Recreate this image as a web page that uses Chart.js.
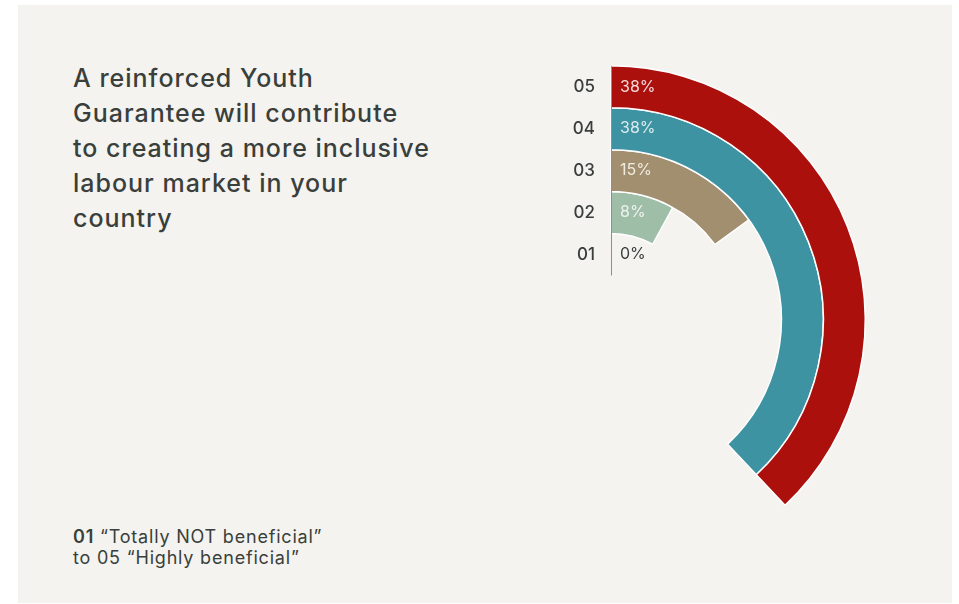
<!DOCTYPE html>
<html>
<head>
<meta charset="utf-8">
<script src="https://cdn.jsdelivr.net/npm/chart.js@4"></script>
<style>
    html, body {
        margin: 0;
        padding: 0;
        background: #ffffff;
        width: 959px;
        height: 604px;
        overflow: hidden;
        font-family: Inter, "Open Sans", sans-serif;
    }
    .panel {
        position: absolute;
        left: 18px;
        top: 5px;
        width: 934px;
        height: 598px;
        background: #f4f3f0;
    }
    .title {
        position: absolute;
        left: 73px;
        top: 61px;
        font-size: 25px;
        line-height: 35px;
        font-weight: 500;
        letter-spacing: 1px;
        color: #3a3f3b;
        margin: 0;
    }
    .note {
        position: absolute;
        left: 73px;
        top: 526px;
        font-size: 18px;
        line-height: 21px;
        letter-spacing: 0.8px;
        color: #3a3f3b;
    }
    .note b { font-weight: 600; }
    .chart-box {
        position: absolute;
        left: 0;
        top: 0;
        width: 959px;
        height: 604px;
    }
</style>
</head>
<body>
<div class="panel"></div>
<div class="title">A reinforced Youth<br>Guarantee will contribute<br>to creating a more inclusive<br>labour market in your<br>country</div>
<div class="note"><b>01</b> “Totally NOT beneficial”<br>to 05 “Highly beneficial”</div>
<div class="chart-box"><canvas id="ygChart"></canvas></div>

<script>
// Answers per score, outer ring first
const categories = ["05", "04", "03", "02", "01"];
const shares = [38, 38, 15, 8, 0];
const ringColors = ["#ab100d", "#3e93a2", "#a28f6f", "#9fbea8", "#c9d8cc"];
const shareTextColors = ["#f3dcdc", "#dcecef", "#f1ebe0", "#eef3ef", "#3a3f3b"];
const total = 100;

// Vertical axis line plus score / percentage labels at the start of each ring
const ringLabels = {
    id: "ringLabels",
    afterDatasetsDraw(chart) {
        const ctx = chart.ctx;
        const first = chart.getDatasetMeta(0).data[0];
        const last = chart.getDatasetMeta(categories.length - 1).data[0];
        const cx = first.x, cy = first.y;

        ctx.save();
        ctx.strokeStyle = "#8e8e8c";
        ctx.lineWidth = 1;
        ctx.beginPath();
        ctx.moveTo(Math.round(cx) + 0.5, cy - last.innerRadius);
        ctx.lineTo(Math.round(cx) + 0.5, cy - first.outerRadius);
        ctx.stroke();

        ctx.textBaseline = "middle";
        categories.forEach((cat, i) => {
            const arc = chart.getDatasetMeta(i).data[0];
            const r = (arc.innerRadius + arc.outerRadius) / 2;
            const y = cy - r;

            ctx.font = "500 17px Inter, sans-serif";
            ctx.fillStyle = "#3a3f3b";
            ctx.textAlign = "right";
            ctx.fillText(cat, cx - 16, y);

            ctx.font = "16px Inter, sans-serif";
            ctx.fillStyle = shareTextColors[i];
            ctx.textAlign = "left";
            ctx.fillText(shares[i] + "%", cx + 9, y);
        });
        ctx.restore();
    }
};

new Chart(document.getElementById("ygChart"), {
    type: "doughnut",
    data: {
        labels: ["share", "rest"],
        datasets: categories.map((cat, i) => ({
            label: cat,
            data: [shares[i], total - shares[i]],
            backgroundColor: [ringColors[i], "rgba(0,0,0,0)"],
            borderColor: ["#ffffff", "rgba(0,0,0,0)"],
            borderWidth: [shares[i] > 0 ? 1.5 : 0, 0],
            borderAlign: "center",
            hoverOffset: 0,
            offset: 0
        }))
    },
    options: {
        responsive: true,
        maintainAspectRatio: false,
        animation: false,
        cutout: "17.5%",
        rotation: 0,
        circumference: 360,
        layout: {
            padding: { left: 356, right: 93, top: 65, bottom: 29 }
        },
        plugins: {
            legend: { display: false },
            tooltip: { enabled: false }
        },
        events: []
    },
    plugins: [ringLabels]
});
</script>
</body>
</html>
